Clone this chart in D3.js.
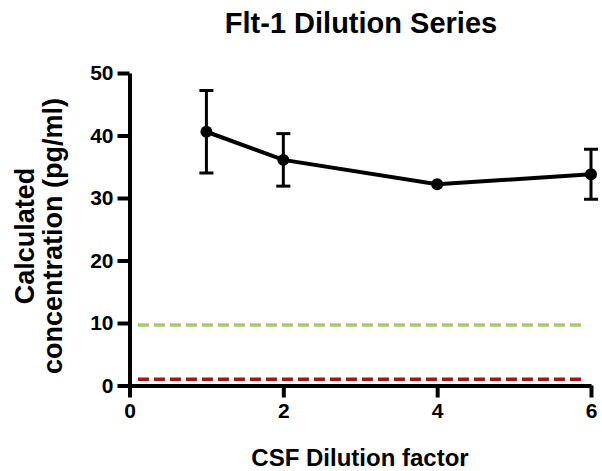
<!DOCTYPE html>
<html>
<head>
<meta charset="utf-8">
<script src="https://cdn.jsdelivr.net/npm/d3@7"></script>
<style>
  body { margin: 0; background: #fff; }
  svg { display: block; font-family: "Liberation Sans", Arial, sans-serif; font-weight: bold; }
</style>
</head>
<body>
<div id="chart"></div>
<script>
// dilution factors and measured concentration (pg/ml)
var dilution = [1, 2, 4, 6];
var meanConc = [40.6, 36.1, 32.2, 33.8];
var errConc = [6.6, 4.2, 0.3, 4.0];

// horizontal reference lines
var refLevels = [9.7, 1.0];
var refColors = ['#a8c868', '#9e1a10'];

var xTicks = [0, 2, 4, 6];
var yTicks = [0, 10, 20, 30, 40, 50];

var width = 602, height = 471;

var svg = d3.select('#chart').append('svg')
  .attr('width', width)
  .attr('height', height);

var x = d3.scaleLinear().domain([0, 6]).range([129.5, 591]);
var y = d3.scaleLinear().domain([0, 50]).range([385.5, 73]);

// reference dashed lines
svg.selectAll('line.ref')
  .data(refLevels)
  .enter().append('line')
  .attr('class', 'ref')
  .attr('x1', x(0) + 8.5)
  .attr('x2', x(6) - 9)
  .attr('y1', function(d) { return y(d); })
  .attr('y2', function(d) { return y(d); })
  .attr('stroke', function(d, i) { return refColors[i]; })
  .attr('stroke-width', 3.5)
  .attr('stroke-dasharray', '11,5');

// axes
var yAxis = d3.axisLeft(y).tickValues(yTicks).tickFormat(d3.format('d'))
  .tickSize(12).tickSizeOuter(0).tickPadding(4);
var xAxis = d3.axisBottom(x).tickValues(xTicks).tickFormat(d3.format('d'))
  .tickSize(12).tickSizeOuter(0).tickPadding(6);

var gy = svg.append('g').attr('transform', 'translate(' + x(0) + ',0)').call(yAxis);
var gx = svg.append('g').attr('transform', 'translate(0,' + y(0) + ')').call(xAxis);

[gx, gy].forEach(function(g) {
  g.selectAll('path.domain, .tick line')
    .attr('stroke', '#000')
    .attr('stroke-width', 4);
  g.selectAll('.tick text')
    .attr('fill', '#000')
    .style('font-size', '21px')
    .style('font-weight', 'bold');
});

// error bars
var pts = dilution.map(function(d, i) { return { x: d, y: meanConc[i], e: errConc[i] }; });

var eb = svg.append('g').attr('stroke', '#000').attr('stroke-width', 3);
pts.forEach(function(p) {
  if (p.e < 1) return;
  eb.append('line')
    .attr('x1', x(p.x)).attr('x2', x(p.x))
    .attr('y1', y(p.y - p.e)).attr('y2', y(p.y + p.e));
  [p.y - p.e, p.y + p.e].forEach(function(v) {
    eb.append('line')
      .attr('x1', x(p.x) - 7).attr('x2', x(p.x) + 7)
      .attr('y1', y(v)).attr('y2', y(v));
  });
});

// connecting line
var line = d3.line()
  .x(function(d) { return x(d.x); })
  .y(function(d) { return y(d.y); });

svg.append('path')
  .datum(pts)
  .attr('d', line)
  .attr('fill', 'none')
  .attr('stroke', '#000')
  .attr('stroke-width', 4);

svg.selectAll('circle.pt')
  .data(pts)
  .enter().append('circle')
  .attr('class', 'pt')
  .attr('cx', function(d) { return x(d.x); })
  .attr('cy', function(d) { return y(d.y); })
  .attr('r', 6)
  .attr('fill', '#000');

// titles
svg.append('text')
  .attr('x', 361).attr('y', 33)
  .attr('text-anchor', 'middle')
  .style('font-size', '29px')
  .text('Flt-1 Dilution Series');

svg.append('text')
  .attr('x', 360).attr('y', 466)
  .attr('text-anchor', 'middle')
  .style('font-size', '24px')
  .text('CSF Dilution factor');

var yt = svg.append('text')
  .attr('transform', 'translate(34,' + 236 + ') rotate(-90)')
  .attr('text-anchor', 'middle')
  .style('font-size', '27px');
yt.append('tspan').attr('x', 0).attr('y', 0).text('Calculated');
yt.append('tspan').attr('x', 0).attr('y', 28).text('concentration (pg/ml)');
</script>
</body>
</html>
